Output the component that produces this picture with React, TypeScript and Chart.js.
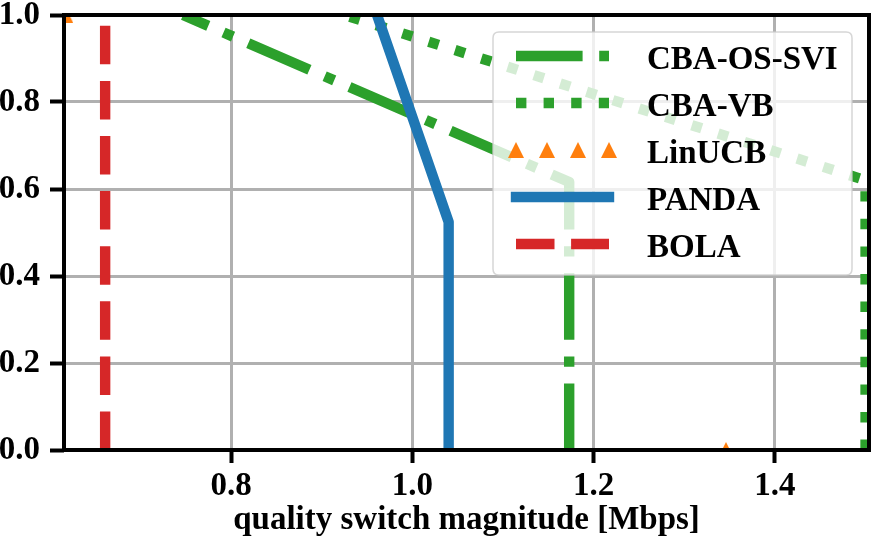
import React, { useEffect, useRef } from 'react';
import { Chart, registerables } from 'chart.js';

Chart.register(...registerables);

// ---- data ----
const SERIES_NAMES = ['CBA-OS-SVI', 'CBA-VB', 'LinUCB', 'PANDA', 'BOLA'];
const SERIES_COLORS = ['#2ca02c', '#2ca02c', '#ff7f0e', '#1f77b4', '#d62728'];

const CBA_OS_SVI_X = [1.173, 1.173, 0.747];
const CBA_OS_SVI_Y = [0.0, 0.616, 1.0];
const CBA_VB_X = [1.5, 1.5, 0.925];
const CBA_VB_Y = [0.0, 0.62, 1.0];
const LINUCB_X = [0.617, 1.346];
const LINUCB_Y = [1.0, 0.0];
const PANDA_X = [1.04, 1.04, 0.961];
const PANDA_Y = [0.0, 0.524, 1.0];
const BOLA_X = [0.661, 0.661];
const BOLA_Y = [0.0, 1.0];

const X_TICKS = [0.8, 1.0, 1.2, 1.4];
const Y_TICKS = [0.0, 0.2, 0.4, 0.6, 0.8, 1.0];
const X_MIN = 0.6156;
const X_MAX = 1.5038;
const Y_MIN = 0;
const Y_MAX = 1;
const X_TITLE = 'quality switch magnitude [Mbps]';

// ---- styles ----
const LW = 10.4;
const DASH_DOT = [66.6, 16.6, 10.4, 16.6];
const DOTTED = [10.4, 17.2];
const DASHED = [38.5, 16.6];
const FONT_FAMILY = '"Liberation Serif", "Times New Roman", serif';
const FONT_SIZE = 33;

const toPoints = (xs: number[], ys: number[]) => xs.map((x, i) => ({ x, y: ys[i] }));

function makeTriangle(size: number, color: string) {
  const c = document.createElement('canvas');
  c.width = size;
  c.height = size;
  const g = c.getContext('2d')!;
  g.fillStyle = color;
  g.beginPath();
  g.moveTo(size / 2, 0);
  g.lineTo(size, size);
  g.lineTo(0, size);
  g.closePath();
  g.fill();
  return c;
}

const spinesPlugin = {
  id: 'spines',
  afterDatasetsDraw(chart: any) {
    const { ctx, chartArea } = chart;
    ctx.save();
    ctx.strokeStyle = '#000';
    ctx.lineWidth = 4;
    ctx.lineJoin = 'miter';
    ctx.strokeRect(chartArea.left, chartArea.top, chartArea.right - chartArea.left, chartArea.bottom - chartArea.top);
    ctx.restore();
  },
};

const legendPlugin = {
  id: 'mplLegend',
  afterDraw(chart: any) {
    const ctx: CanvasRenderingContext2D = chart.ctx;
    const bx = 493, by = 32, bw = 359, bh = 243, r = 6;
    ctx.save();
    ctx.beginPath();
    ctx.moveTo(bx + r, by);
    ctx.lineTo(bx + bw - r, by);
    ctx.quadraticCurveTo(bx + bw, by, bx + bw, by + r);
    ctx.lineTo(bx + bw, by + bh - r);
    ctx.quadraticCurveTo(bx + bw, by + bh, bx + bw - r, by + bh);
    ctx.lineTo(bx + r, by + bh);
    ctx.quadraticCurveTo(bx, by + bh, bx, by + bh - r);
    ctx.lineTo(bx, by + r);
    ctx.quadraticCurveTo(bx, by, bx + r, by);
    ctx.closePath();
    ctx.fillStyle = 'rgba(255,255,255,0.8)';
    ctx.fill();
    ctx.strokeStyle = 'rgba(204,204,204,0.8)';
    ctx.lineWidth = 1.5;
    ctx.stroke();

    const x0 = 516, x1 = 609, textX = 647;
    const rowY0 = 56, rowGap = 47;
    const dashes = [DASH_DOT, DOTTED, null, [], DASHED];
    const tri = makeTriangle(16, SERIES_COLORS[2]);
    SERIES_NAMES.forEach((name, i) => {
      const y = rowY0 + i * rowGap;
      if (i === 2) {
        for (let k = 0; k < 4; k++) {
          const cx = x0 + (k * (x1 - x0)) / 3;
          ctx.drawImage(tri, cx - 8, y - 8);
        }
      } else {
        ctx.beginPath();
        ctx.setLineDash(dashes[i] as number[]);
        ctx.lineDashOffset = 0;
        ctx.lineCap = i === 3 ? 'square' : 'butt';
        ctx.strokeStyle = SERIES_COLORS[i];
        ctx.lineWidth = LW;
        ctx.moveTo(x0, y);
        ctx.lineTo(x1, y);
        ctx.stroke();
        ctx.setLineDash([]);
      }
      ctx.fillStyle = '#000';
      ctx.font = `bold ${FONT_SIZE}px ${FONT_FAMILY}`;
      ctx.textAlign = 'left';
      ctx.textBaseline = 'alphabetic';
      ctx.fillText(name, textX, y + 12.5);
    });
    ctx.restore();
  },
};

export default function App() {
  const ref = useRef<HTMLCanvasElement | null>(null);

  useEffect(() => {
    document.body.style.margin = '0';
    const canvas = ref.current!;
    const tri = makeTriangle(16, SERIES_COLORS[2]);
    const tickFont = { family: FONT_FAMILY, size: FONT_SIZE, weight: 'bold' as const, lineHeight: 1.2 };

    const chart = new Chart(canvas, {
      type: 'line',
      data: {
        datasets: [
          {
            label: SERIES_NAMES[0],
            data: toPoints(CBA_OS_SVI_X, CBA_OS_SVI_Y),
            borderColor: SERIES_COLORS[0],
            borderWidth: LW,
            borderDash: DASH_DOT,
            borderCapStyle: 'butt',
            borderJoinStyle: 'round',
            pointRadius: 0,
            fill: false,
            tension: 0,
            clip: 0,
            order: 5,
          },
          {
            label: SERIES_NAMES[1],
            data: toPoints(CBA_VB_X, CBA_VB_Y),
            borderColor: SERIES_COLORS[1],
            borderWidth: LW,
            borderDash: DOTTED,
            borderCapStyle: 'butt',
            borderJoinStyle: 'round',
            pointRadius: 0,
            fill: false,
            tension: 0,
            clip: 0,
            order: 4,
          },
          {
            label: SERIES_NAMES[2],
            data: toPoints(LINUCB_X, LINUCB_Y),
            borderColor: SERIES_COLORS[2],
            backgroundColor: SERIES_COLORS[2],
            showLine: false,
            pointStyle: tri as any,
            pointRadius: 8,
            clip: 0,
            order: 3,
          },
          {
            label: SERIES_NAMES[3],
            data: toPoints(PANDA_X, PANDA_Y),
            borderColor: SERIES_COLORS[3],
            borderWidth: LW,
            borderCapStyle: 'square',
            borderJoinStyle: 'round',
            pointRadius: 0,
            fill: false,
            tension: 0,
            clip: 0,
            order: 2,
          },
          {
            label: SERIES_NAMES[4],
            data: toPoints(BOLA_X, BOLA_Y),
            borderColor: SERIES_COLORS[4],
            borderWidth: LW,
            borderDash: DASHED,
            borderCapStyle: 'butt',
            pointRadius: 0,
            fill: false,
            tension: 0,
            clip: 0,
            order: 1,
          },
        ] as any,
      },
      options: {
        responsive: false,
        devicePixelRatio: 1,
        animation: false,
        events: [],
        layout: { padding: { left: 0, right: 15, top: 15, bottom: 0 } },
        plugins: { legend: { display: false }, tooltip: { enabled: false }, title: { display: false } },
        scales: {
          x: {
            type: 'linear',
            min: X_MIN,
            max: X_MAX,
            afterBuildTicks: (scale: any) => {
              scale.ticks = X_TICKS.map((v) => ({ value: v }));
            },
            afterFit: (scale: any) => {
              scale.height = 90;
              scale.paddingLeft = 0;
              scale.paddingRight = 0;
            },
            grid: { color: '#b0b0b0', lineWidth: 3, tickColor: '#000', tickLength: 13, tickWidth: 4, drawTicks: true },
            border: { display: false },
            ticks: {
              autoSkip: false,
              maxRotation: 0,
              color: '#000',
              font: tickFont,
              padding: 4,
              callback: (v: any) => Number(v).toFixed(1),
            },
            title: {
              display: true,
              text: X_TITLE,
              color: '#000',
              font: { family: FONT_FAMILY, size: FONT_SIZE, weight: 'bold', lineHeight: 1.2 },
              padding: { top: 0, bottom: 0 },
            },
          },
          y: {
            type: 'linear',
            min: Y_MIN,
            max: Y_MAX,
            afterBuildTicks: (scale: any) => {
              scale.ticks = Y_TICKS.map((v) => ({ value: v }));
            },
            afterFit: (scale: any) => {
              scale.width = 64;
              scale.paddingTop = 0;
              scale.paddingBottom = 0;
            },
            grid: { color: '#b0b0b0', lineWidth: 3, tickColor: '#000', tickLength: 14, tickWidth: 4, drawTicks: true },
            border: { display: false },
            ticks: {
              autoSkip: false,
              color: '#000',
              font: tickFont,
              padding: 10,
              callback: (v: any) => Number(v).toFixed(1),
            },
          },
        },
      } as any,
      plugins: [spinesPlugin, legendPlugin],
    });

    return () => chart.destroy();
  }, []);

  return (
    <div style={{ width: 884, height: 540 }}>
      <canvas ref={ref} width={884} height={540} style={{ display: 'block' }} />
    </div>
  );
}
